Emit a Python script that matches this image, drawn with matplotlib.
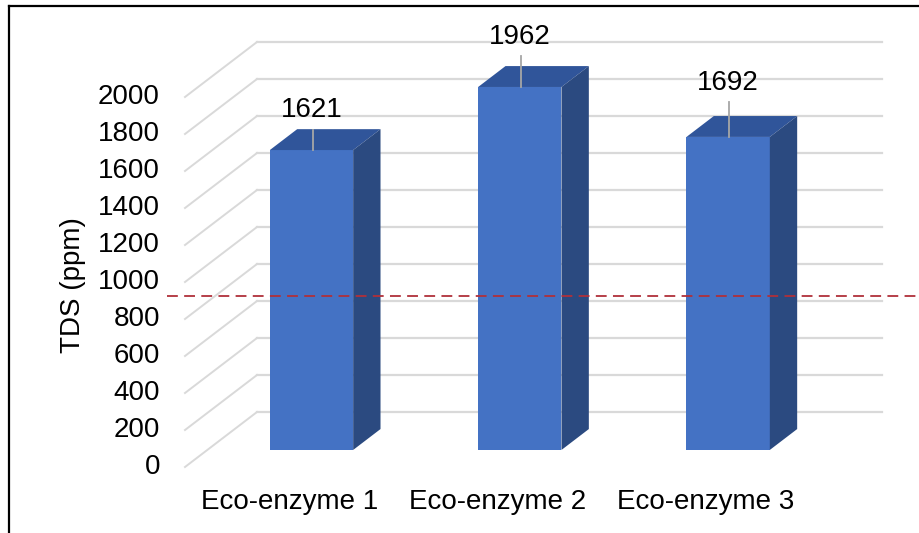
import matplotlib
matplotlib.use('Agg')
import matplotlib.pyplot as plt
from matplotlib.patches import Polygon, Rectangle

# data
categorie = ['Eco-enzyme 1', 'Eco-enzyme 2', 'Eco-enzyme 3']
tds = [1621, 1962, 1692]
ticks = [0, 200, 400, 600, 800, 1000, 1200, 1400, 1600, 1800, 2000]
soglia = 925  # dashed reference line

plt.rcParams['font.family'] = ['Liberation Sans', 'DejaVu Sans']
W, H = 919, 533
fig = plt.figure(figsize=(W / 100, H / 100), dpi=100)
ax = fig.add_axes([0, 0, 1, 1])
ax.axis('off')

# pixel scale of the (front) plane
px_cat = 208.33      # px per category
x0_px = 185          # left front edge of floor
px_val = 0.185       # px per ppm
y0_px = 467          # front floor line (value 0)
ax.set_xlim(-0.5 - x0_px / px_cat, -0.5 + (W - x0_px) / px_cat)
ax.set_ylim((y0_px - H) / px_val, y0_px / px_val)

# depth direction (oblique 3d look)
DX = 72 / px_cat
DY = 55 / px_val
f0, f1 = 0.31, 0.69
larg = 0.4
fs = 20
grig = '#d9d9d9'

# grid: side wall diagonals + back wall
for v in ticks:
    ax.plot([-0.5, -0.5 + DX], [v, v + DY], color=grig, lw=1.4, zorder=1)
    ax.plot([-0.5 + DX, 2.5 + DX], [v + DY, v + DY], color=grig, lw=1.6, zorder=1)
    ax.annotate(str(v), (-0.5, v), xytext=(-18, 0), textcoords='offset points',
                ha='right', va='center', fontsize=fs, color='#000000')

# bars
off_lab = [40, 50, 54]  # label offset above bar, px
for i, val in enumerate(tds):
    x0 = i - larg / 2 + f0 * DX
    yb = f0 * DY
    ddx = (f1 - f0) * DX
    ddy = (f1 - f0) * DY
    ax.add_patch(Rectangle((x0, yb), larg, val, facecolor='#4472c4', edgecolor='none', zorder=3))
    ax.add_patch(Polygon([(x0, yb + val), (x0 + larg, yb + val), (x0 + larg + ddx, yb + val + ddy),
                          (x0 + ddx, yb + val + ddy)], closed=True, facecolor='#30559a',
                         edgecolor='none', zorder=3))
    ax.add_patch(Polygon([(x0 + larg, yb), (x0 + larg, yb + val), (x0 + larg + ddx, yb + val + ddy),
                          (x0 + larg + ddx, yb + ddy)], closed=True, facecolor='#2b4a80',
                         edgecolor='none', zorder=3))
    xc = i + f0 * DX
    ytop = yb + val
    o = off_lab[i] / px_val
    ax.plot([xc + 0.005, xc + 0.005], [ytop, ytop + o - 19.5 / px_val], color='#a6a6a6', lw=1.3, zorder=4)
    ax.text(xc, ytop + o, str(val), ha='center', va='center', fontsize=fs, zorder=5)
    ax.annotate(categorie[i], (i, 0), xytext=(0, -25), textcoords='offset points',
                ha='center', va='center', fontsize=fs)

# reference line across the figure
ax.plot([-0.5 - 18 / px_cat, 100], [soglia, soglia], color='#b0303a', lw=1.3,
        dashes=(6, 3.5), zorder=6)

fig.text(73 / W, 1 - 285 / H, 'TDS (ppm)', rotation=90, ha='center', va='center', fontsize=fs)

# frame (left + top)
fig.add_artist(plt.Line2D([8.5 / W, 8.5 / W], [0, 1 - 5.5 / H], color='black', lw=1.6))
fig.add_artist(plt.Line2D([8.5 / W, 1], [1 - 5.5 / H, 1 - 5.5 / H], color='black', lw=1.6))

plt.savefig('out.png', dpi=100)
